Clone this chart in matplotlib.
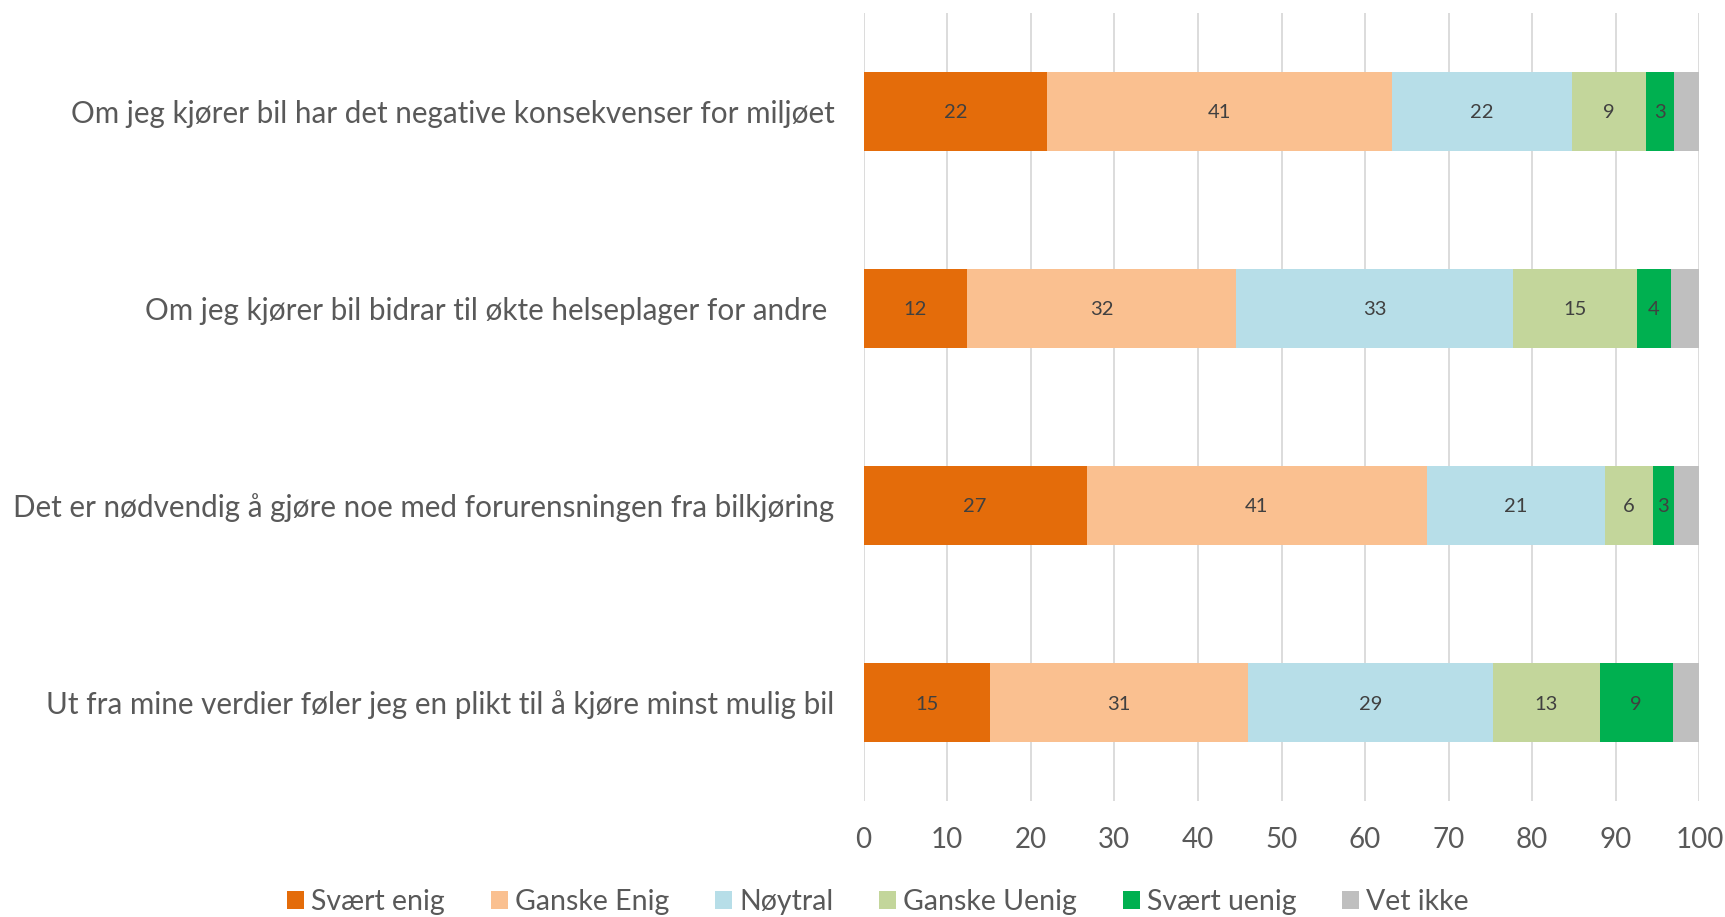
import numpy as np
import matplotlib.pyplot as plt

plt.rcParams['font.family'] = ['Lato', 'DejaVu Sans']

statements = [
    'Om jeg kjører bil har det negative konsekvenser for miljøet',
    'Om jeg kjører bil bidrar til økte helseplager for andre ',
    'Det er nødvendig å gjøre noe med forurensningen fra bilkjøring',
    'Ut fra mine verdier føler jeg en plikt til å kjøre minst mulig bil',
]
answers = ['Svært enig', 'Ganske Enig', 'Nøytral', 'Ganske Uenig', 'Svært uenig', 'Vet ikke']
colors = ['#E46C0A', '#FAC090', '#B7DEE8', '#C3D69B', '#00B050', '#BFBFBF']

# percent per answer, one entry per statement
svaert_enig = [22.0, 12.4, 26.7, 15.1]
ganske_enig = [41.2, 32.2, 40.7, 30.9]
noytral = [21.6, 33.1, 21.3, 29.3]
ganske_uenig = [8.8, 14.8, 5.7, 12.8]
svaert_uenig = [3.4, 4.1, 2.6, 8.7]
vet_ikke = [3.0, 3.4, 3.0, 3.2]

series = [svaert_enig, ganske_enig, noytral, ganske_uenig, svaert_uenig, vet_ikke]

fig = plt.figure(figsize=(17.25, 9.17), dpi=100)
ax = fig.add_axes([863.6 / 1725, 1 - 801 / 917, (1699.4 - 863.6) / 1725, 788 / 917])

y = np.arange(len(statements))
left = np.zeros(len(statements))
for name, vals, c in zip(answers, series, colors):
    vals = np.array(vals)
    ax.barh(y, vals, left=left, height=0.4, color=c, label=name, zorder=2)
    if name != 'Vet ikke':
        for yi, l, v in zip(y, left, vals):
            ax.text(l + v / 2, yi, f'{v:.0f}', ha='center', va='center_baseline',
                    fontsize=14.5, color='#404040', zorder=3)
    left += vals

ax.set_xlim(0, 100)
ax.set_ylim(len(statements) - 0.5, -0.5)
ax.set_xticks(range(0, 101, 10))
ax.set_yticks(y)
ax.set_yticklabels(statements, fontsize=21.3)
ax.xaxis.grid(True, color='#D9D9D9', linewidth=1.3, zorder=0)
ax.set_axisbelow(True)
for s in ax.spines.values():
    s.set_visible(False)
ax.tick_params(axis='both', length=0, labelcolor='#595959')
ax.tick_params(axis='x', pad=19, labelsize=20)
ax.tick_params(axis='y', pad=21)

ax.legend(loc='lower center', bbox_to_anchor=(0.509, -0.01), bbox_transform=fig.transFigure,
          ncol=6, frameon=False, fontsize=20.5, handlelength=0.6, handleheight=0.6,
          handletextpad=0.25, columnspacing=1.6, labelcolor='#595959', borderaxespad=0.0)

fig.savefig('out.png', dpi=100)
